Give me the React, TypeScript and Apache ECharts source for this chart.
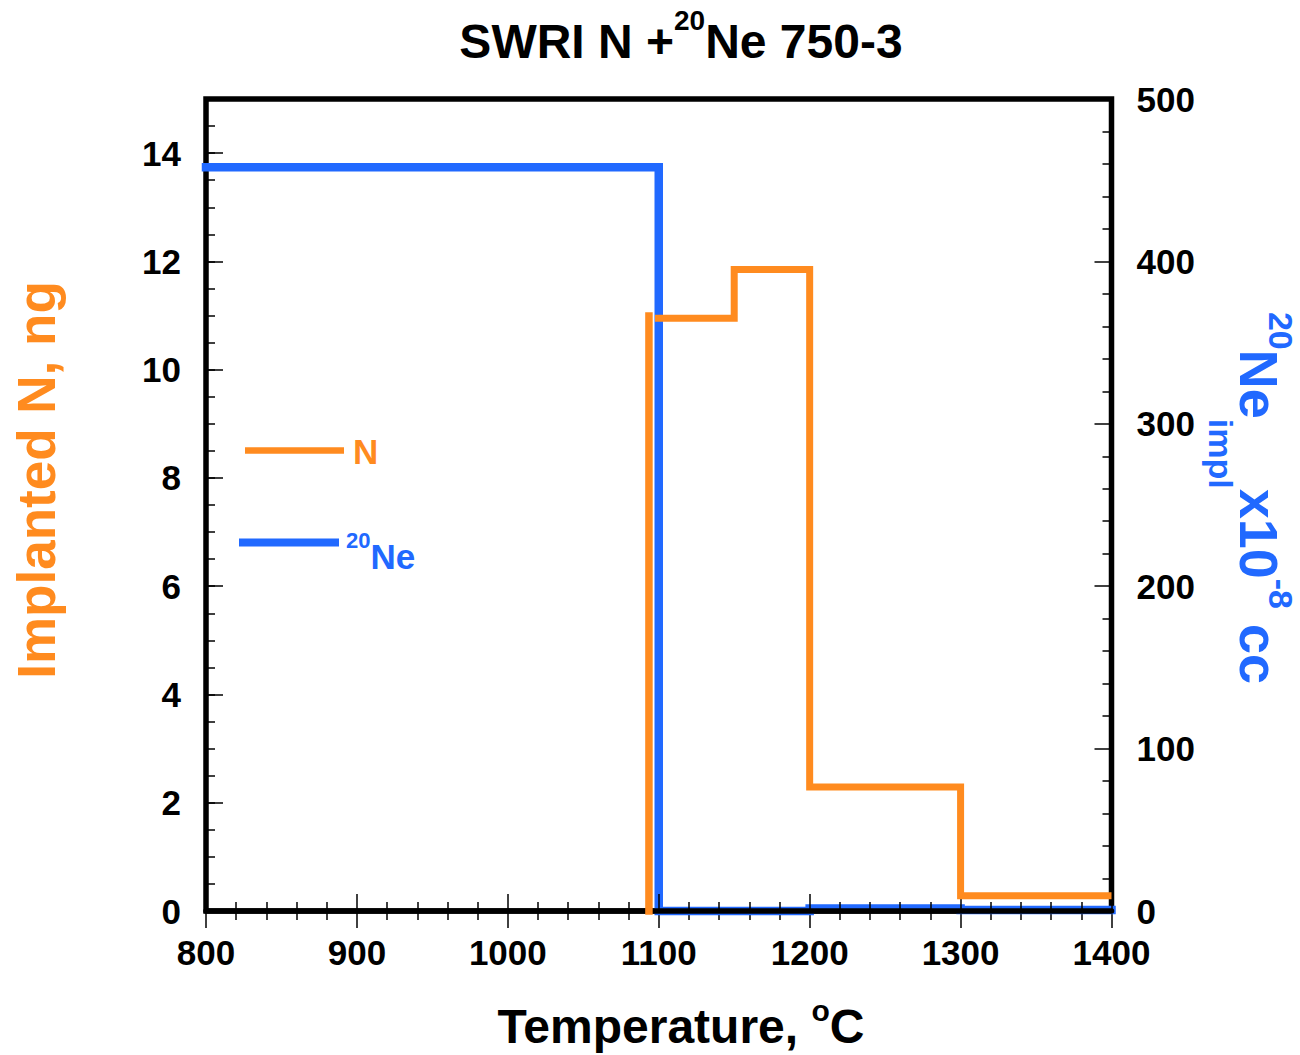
import React, { useEffect, useRef } from "react";
import * as echarts from "echarts";

// ---- data ----
const xTickLabels = ["800", "900", "1000", "1100", "1200", "1300", "1400"];
const leftTickLabels = ["0", "2", "4", "6", "8", "10", "12", "14"];
const rightTickLabels = ["0", "100", "200", "300", "400", "500"];

// 20Ne release (right axis, x10^-8 cc), step ends at next temperature
const neTemps = [800, 1100, 1200, 1300, 1400];
const neValues = [458, 0, 1.6, 0.6, 0.6];

// N release (left axis, ng)
const nRiseTemps = [1093.5, 1093.5];
const nRiseValues = [-0.07, 11.06];
const nTemps = [1097.5, 1150, 1200, 1300, 1400];
const nValues = [10.95, 11.85, 2.29, 0.28, 0.28];

const ORANGE = "#ff8b1f";
const BLUE = "#2169ff";
const FONT = "'Liberation Sans', Arial, Helvetica, sans-serif";

export default function App() {
  const ref = useRef<HTMLDivElement>(null);

  useEffect(() => {
    document.body.style.margin = "0";
    if (!ref.current) return;
    const chart = echarts.init(ref.current, undefined, { renderer: "svg" });

    const tickStyle = { color: "#000", width: 1.5 };
    const labelStyle = {
      fontSize: 35,
      fontWeight: "bold",
      fontFamily: FONT,
      color: "#000",
    };

    const option: any = {
      animation: false,
      grid: {
        left: 206,
        right: 188.5,
        top: 99,
        bottom: 144,
        show: true,
        borderColor: "#000",
        borderWidth: 5.5,
        backgroundColor: "transparent",
      },
      xAxis: [
        {
          type: "value",
          min: 800,
          max: 1400,
          interval: 100,
          position: "bottom",
          z: 3,
          axisLine: { show: true, onZero: false, lineStyle: { color: "#000", width: 5.5 } },
          axisTick: { show: true, inside: true, length: 17, lineStyle: tickStyle },
          minorTick: { show: true, splitNumber: 5, length: 9, lineStyle: tickStyle },
          axisLabel: {
            ...labelStyle,
            margin: 24,
            formatter: (v: number) => xTickLabels[Math.round((v - 800) / 100)] ?? "",
          },
          splitLine: { show: false },
        },
        {
          type: "value",
          min: 800,
          max: 1400,
          interval: 100,
          position: "top",
          axisLine: { show: false },
          axisTick: { show: true, inside: true, length: 17, lineStyle: tickStyle },
          minorTick: { show: true, splitNumber: 5, length: 9, lineStyle: tickStyle },
          axisLabel: { show: false },
          splitLine: { show: false },
        },
      ],
      yAxis: [
        {
          type: "value",
          min: 0,
          max: 15,
          interval: 2,
          position: "left",
          axisLine: { show: false },
          axisTick: { show: true, inside: true, length: 17, lineStyle: tickStyle },
          axisLabel: {
            ...labelStyle,
            margin: 25,
            showMaxLabel: false,
            formatter: (v: number) => leftTickLabels[Math.round(v / 2)] ?? "",
          },
          splitLine: { show: false },
        },
        {
          type: "value",
          min: 0,
          max: 500,
          interval: 100,
          position: "right",
          axisLine: { show: false },
          axisTick: { show: true, inside: true, length: 17, lineStyle: tickStyle },
          minorTick: { show: true, splitNumber: 5, length: 9, lineStyle: tickStyle },
          axisLabel: {
            ...labelStyle,
            margin: 25,
            formatter: (v: number) => rightTickLabels[Math.round(v / 100)] ?? "",
          },
          splitLine: { show: false },
        },
        {
          type: "value",
          min: 0,
          max: 15,
          interval: 0.5,
          position: "left",
          axisLine: { show: false },
          axisTick: { show: true, inside: true, length: 9, lineStyle: tickStyle },
          axisLabel: { show: false },
          splitLine: { show: false },
        },
      ],
      series: [
        {
          name: "20Ne",
          type: "line",
          xAxisIndex: 0,
          yAxisIndex: 1,
          step: "end",
          symbol: "none",
          clip: false,
          z: 2,
          data: neTemps.map((t, i) => [t, neValues[i]]),
          lineStyle: { color: BLUE, width: 8.5, cap: "square", join: "miter" },
        },
        {
          name: "N rise",
          type: "line",
          xAxisIndex: 0,
          yAxisIndex: 0,
          symbol: "none",
          clip: false,
          z: 4,
          data: nRiseTemps.map((t, i) => [t, nRiseValues[i]]),
          lineStyle: { color: ORANGE, width: 7.5, cap: "butt" },
        },
        {
          name: "N",
          type: "line",
          xAxisIndex: 0,
          yAxisIndex: 0,
          step: "end",
          symbol: "none",
          clip: false,
          z: 4,
          data: nTemps.map((t, i) => [t, nValues[i]]),
          lineStyle: { color: ORANGE, width: 7, cap: "butt", join: "miter" },
        },
      ],
      graphic: [
        {
          type: "text",
          x: 681,
          y: 41,
          style: {
            text: "{b|SWRI N +}{s|20}{b|Ne 750-3}",
            align: "center",
            verticalAlign: "middle",
            rich: {
              b: { fontSize: 48, fontWeight: "bold", fontFamily: FONT, fill: "#000", lineHeight: 56 },
              s: {
                fontSize: 28,
                fontWeight: "bold",
                fontFamily: FONT,
                fill: "#000",
                lineHeight: 28,
                padding: [0, 0, 41, 0],
              },
            },
          },
        },
        {
          type: "text",
          x: 681,
          y: 1026,
          style: {
            text: "{b|Temperature, }{s|o}{b|C}",
            align: "center",
            verticalAlign: "middle",
            rich: {
              b: { fontSize: 48, fontWeight: "bold", fontFamily: FONT, fill: "#000", lineHeight: 56 },
              s: {
                fontSize: 30,
                fontWeight: "bold",
                fontFamily: FONT,
                fill: "#000",
                lineHeight: 30,
                padding: [0, 0, 32, 0],
              },
            },
          },
        },
        {
          type: "text",
          x: 36.6,
          y: 480,
          rotation: Math.PI / 2,
          style: {
            text: "Implanted N, ng",
            align: "center",
            verticalAlign: "middle",
            fontSize: 53,
            fontWeight: "bold",
            fontFamily: FONT,
            fill: ORANGE,
          },
        },
        {
          type: "text",
          x: 1258.7,
          y: 498,
          rotation: -Math.PI / 2,
          style: {
            text: "{u|20}{b|Ne}{d|impl}{b|x10}{u|-8}{b| cc}",
            align: "center",
            verticalAlign: "middle",
            rich: {
              b: { fontSize: 54, fontWeight: "bold", fontFamily: FONT, fill: BLUE, lineHeight: 64 },
              u: {
                fontSize: 34,
                fontWeight: "bold",
                fontFamily: FONT,
                fill: BLUE,
                lineHeight: 34,
                padding: [0, 0, 45, 0],
              },
              d: {
                fontSize: 34,
                fontWeight: "bold",
                fontFamily: FONT,
                fill: BLUE,
                lineHeight: 34,
                padding: [76, 0, 0, 0],
              },
            },
          },
        },
        {
          type: "line",
          shape: { x1: 245, y1: 450.5, x2: 344, y2: 450.5 },
          style: { stroke: ORANGE, lineWidth: 6.5 },
        },
        {
          type: "text",
          x: 353,
          y: 451.5,
          style: {
            text: "N",
            align: "left",
            verticalAlign: "middle",
            fontSize: 35,
            fontWeight: "bold",
            fontFamily: FONT,
            fill: ORANGE,
          },
        },
        {
          type: "line",
          shape: { x1: 239, y1: 542.5, x2: 339, y2: 542.5 },
          style: { stroke: BLUE, lineWidth: 8 },
        },
        {
          type: "text",
          x: 346,
          y: 556,
          style: {
            text: "{s|20}{b|Ne}",
            align: "left",
            verticalAlign: "middle",
            rich: {
              b: { fontSize: 35, fontWeight: "bold", fontFamily: FONT, fill: BLUE, lineHeight: 40 },
              s: {
                fontSize: 22,
                fontWeight: "bold",
                fontFamily: FONT,
                fill: BLUE,
                lineHeight: 22,
                padding: [0, 0, 32, 0],
              },
            },
          },
        },
      ],
    };

    chart.setOption(option);
    return () => chart.dispose();
  }, []);

  return <div ref={ref} style={{ width: 1300, height: 1055 }} />;
}
